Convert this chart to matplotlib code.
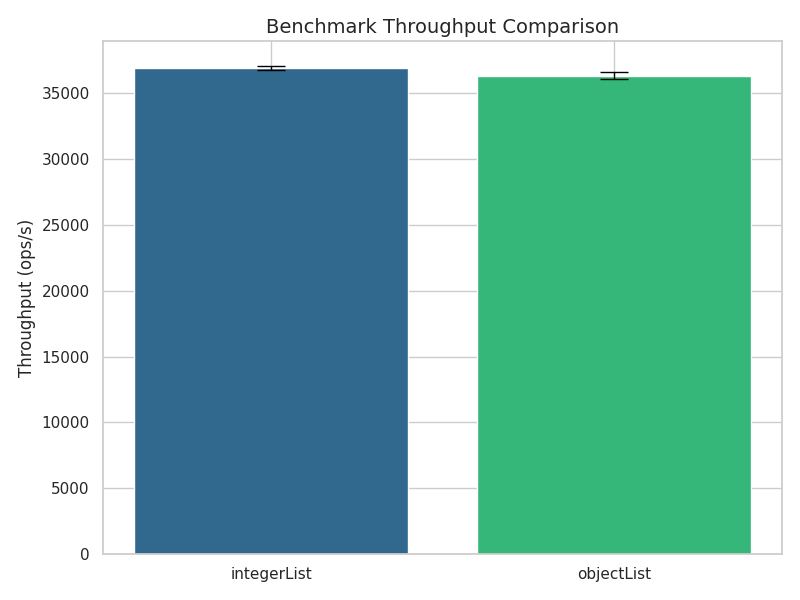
import matplotlib
matplotlib.use("Agg")
import matplotlib.pyplot as plt
import seaborn as sns

benchmarks = ["integerList", "objectList"]
throughput = [36950, 36350]
errors = [160, 280]
colors = ["#31688e", "#35b779"]

sns.set_theme(style="whitegrid")
fig, ax = plt.subplots(figsize=(8, 6), dpi=100)
ax.bar(benchmarks, throughput, yerr=errors, capsize=10, color=colors,
       error_kw={"ecolor": "black", "elinewidth": 1})
ax.set_title("Benchmark Throughput Comparison", fontsize=14)
ax.set_ylabel("Throughput (ops/s)")
for s in ax.spines.values():
    s.set_color("#cccccc")
plt.tight_layout()
plt.savefig("out.png")
